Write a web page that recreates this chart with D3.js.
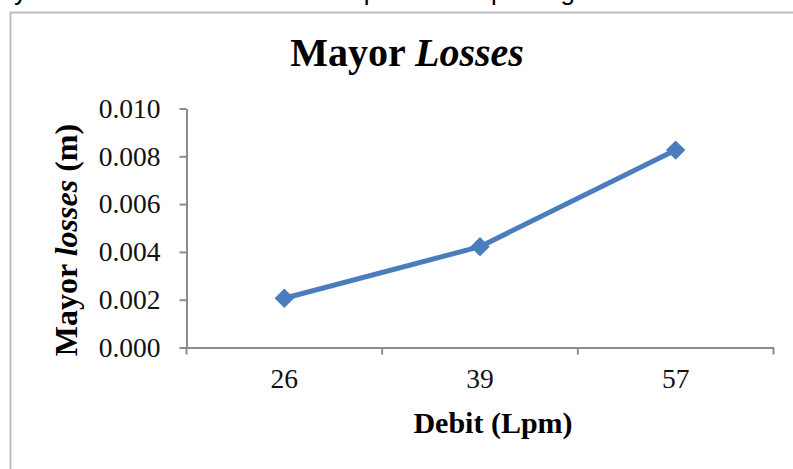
<!DOCTYPE html>
<html>
<head>
<meta charset="utf-8">
<script src="https://cdn.jsdelivr.net/npm/d3@7/dist/d3.min.js"></script>
<style>
  html, body { margin: 0; padding: 0; background: #fff; }
  svg { display: block; }
</style>
</head>
<body>
<svg id="chart" width="793" height="469"></svg>
<script>
// ---- data ----
const categories = ["26", "39", "57"];
const lossValues = [0.00206, 0.00422, 0.00826];
const yTickValues = [0.000, 0.002, 0.004, 0.006, 0.008, 0.010];
const chartTitle = ["Mayor ", "Losses"];
const yTitle = ["Mayor ", "losses", " (m)"];
const xTitle = "Debit (Lpm)";
const pageText = "Mayor losses to the debit with respect to flat passage on the cross section of pipe";

const svg = d3.select("#chart");
const W = 793, H = 469;
const plot = { left: 186.5, right: 773.5, top: 108.5, bottom: 347.5 };

// cut-off line of document text at the very top
svg.append("text")
  .attr("x", -22).attr("y", 0)
  .attr("font-family", "Liberation Sans, Arial, sans-serif")
  .attr("font-size", 26)
  .attr("fill", "#000")
  .text(pageText);

// chart frame (extends beyond the right and bottom)
svg.append("rect")
  .attr("x", 10.5).attr("y", 12.5)
  .attr("width", W + 20).attr("height", H + 20)
  .attr("fill", "#fff")
  .attr("stroke", "#bdbdbd").attr("stroke-width", 2);

const x = d3.scaleBand().domain(categories).range([plot.left, plot.right]);
const y = d3.scaleLinear().domain([0, 0.010]).range([plot.bottom, plot.top]);

const axisColor = "#8c8c8c";
const serif = "Liberation Serif, 'Times New Roman', serif";

// y axis
const yAxis = svg.append("g")
  .attr("transform", `translate(${plot.left},0)`)
  .call(d3.axisLeft(y).tickValues(yTickValues).tickFormat(d3.format(".3f"))
        .tickSize(7).tickSizeOuter(0).tickPadding(19));
yAxis.select(".domain").attr("stroke", axisColor).attr("stroke-width", 2);
yAxis.selectAll(".tick line").attr("stroke", axisColor).attr("stroke-width", 2);
yAxis.selectAll(".tick text")
  .attr("font-family", serif).attr("font-size", 27.5).attr("fill", "#111");

// x axis: labels at band centres, ticks at band boundaries
const xAxis = svg.append("g")
  .attr("transform", `translate(0,${plot.bottom})`)
  .call(d3.axisBottom(x).tickSize(0).tickSizeOuter(0).tickPadding(21));
xAxis.select(".domain").attr("stroke", axisColor).attr("stroke-width", 2);
xAxis.selectAll(".tick text")
  .attr("font-family", serif).attr("font-size", 27.5).attr("fill", "#111");
const bounds = categories.map(c => x(c)).concat([x.range()[1]]);
xAxis.selectAll(".bound").data(bounds).enter().append("line")
  .attr("class", "bound")
  .attr("x1", d => d).attr("x2", d => d)
  .attr("y1", 0).attr("y2", 7)
  .attr("stroke", axisColor).attr("stroke-width", 2);

// line series
const pts = categories.map((c, i) => ({ c, v: lossValues[i] }));
const lineGen = d3.line()
  .x(d => x(d.c) + x.bandwidth() / 2)
  .y(d => y(d.v));
const blue = "#4a7dbb";
svg.append("path")
  .datum(pts)
  .attr("d", lineGen)
  .attr("fill", "none")
  .attr("stroke", blue)
  .attr("stroke-width", 5)
  .attr("stroke-linejoin", "round");

const diamond = d3.symbol().type(d3.symbolDiamond2).size(240);
svg.selectAll(".marker").data(pts).enter().append("path")
  .attr("class", "marker")
  .attr("transform", d => `translate(${x(d.c) + x.bandwidth() / 2},${y(d.v)})`)
  .attr("d", diamond)
  .attr("fill", blue);

// chart title
const t = svg.append("text")
  .attr("x", 407).attr("y", 66)
  .attr("text-anchor", "middle")
  .attr("font-family", serif).attr("font-size", 40)
  .attr("font-weight", "bold").attr("fill", "#000");
t.append("tspan").text(chartTitle[0]);
t.append("tspan").attr("font-style", "italic").text(chartTitle[1]);

// y title
const yt = svg.append("text")
  .attr("transform", "translate(77,240) rotate(-90)")
  .attr("text-anchor", "middle")
  .attr("font-family", serif).attr("font-size", 32)
  .attr("font-weight", "bold").attr("fill", "#000");
yt.append("tspan").text(yTitle[0]);
yt.append("tspan").attr("font-style", "italic").text(yTitle[1]);
yt.append("tspan").text(yTitle[2]);

// x title
svg.append("text")
  .attr("x", 493).attr("y", 433)
  .attr("text-anchor", "middle")
  .attr("font-family", serif).attr("font-size", 30)
  .attr("font-weight", "bold").attr("fill", "#000")
  .text(xTitle);
</script>
</body>
</html>
